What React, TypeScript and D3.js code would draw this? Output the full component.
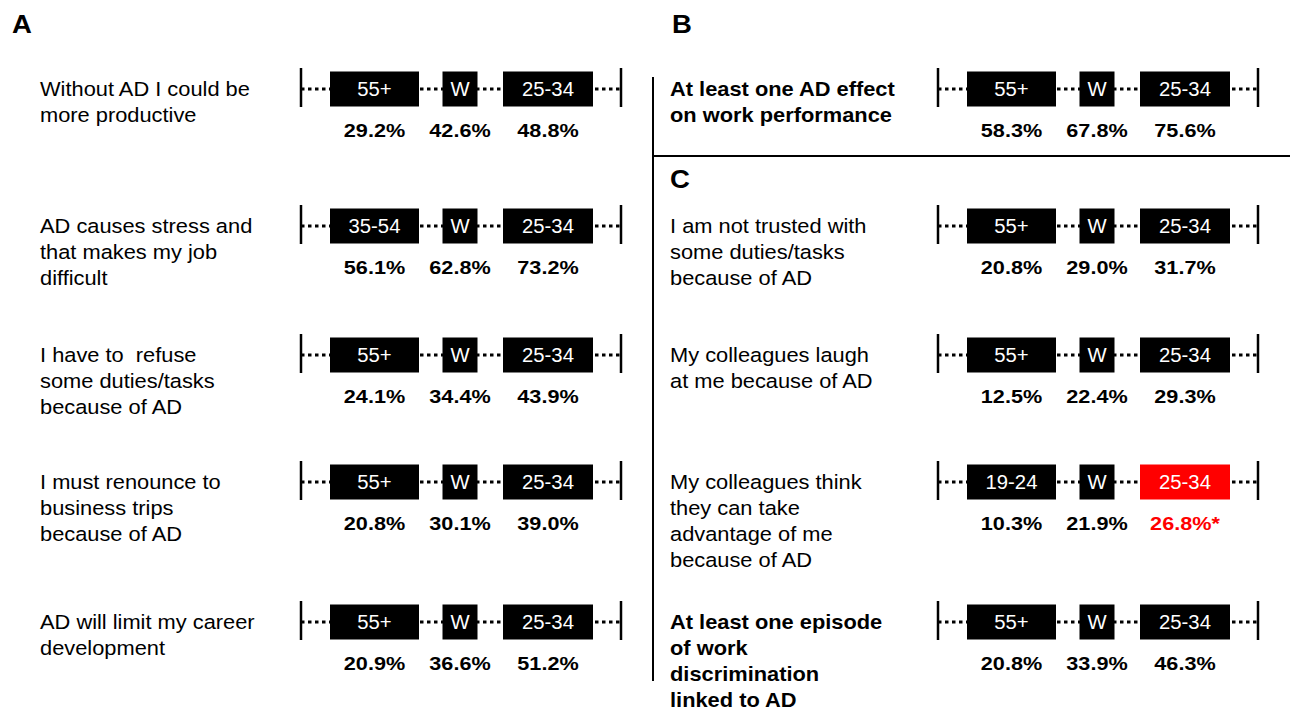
import React from "react";
import * as d3 from "d3";

// ---- Data ----
const leftLabels = [
  ["Without AD I could be", "more productive"],
  ["AD causes stress and", "that makes my job", "difficult"],
  ["I have to  refuse", "some duties/tasks", "because of AD"],
  ["I must renounce to", "business trips", "because of AD"],
  ["AD will limit my career", "development"],
];
const leftGroups = ["55+", "35-54", "55+", "55+", "55+"];
const leftGroupValues = [29.2, 56.1, 24.1, 20.8, 20.9];
const leftWholeValues = [42.6, 62.8, 34.4, 30.1, 36.6];
const leftRefValues = [48.8, 73.2, 43.9, 39.0, 51.2];

const rightLabels = [
  ["At least one AD effect", "on work performance"],
  ["I am not trusted with", "some duties/tasks", "because of AD"],
  ["My colleagues laugh", "at me because of AD"],
  ["My colleagues think", "they can take", "advantage of me", "because of AD"],
  ["At least one episode", "of work", "discrimination", "linked to AD"],
];
const rightBold = [true, false, false, false, true];
const rightGroups = ["55+", "55+", "55+", "19-24", "55+"];
const rightGroupValues = [58.3, 20.8, 12.5, 10.3, 20.8];
const rightWholeValues = [67.8, 29.0, 22.4, 21.9, 33.9];
const rightRefValues = [75.6, 31.7, 29.3, 26.8, 46.3];
const rightRefSignificant = [false, false, false, true, false];

const wholeLabel = "W";
const refLabel = "25-34";

const FONT = "'Liberation Sans', Arial, sans-serif";

type Row = {
  label: string[];
  bold: boolean;
  group: string;
  vals: number[];
  sig: boolean;
};

function Strip({ x0, y, row }: { x0: number; y: number; row: Row }) {
  const slots = ["group", "whole", "ref"];
  const center = d3.scaleOrdinal<string, number>().domain(slots).range([73.5, 159, 247]);
  const width = d3.scaleOrdinal<string, number>().domain(slots).range([89, 35, 90]);
  const len = 320;
  const texts = [row.group, wholeLabel, refLabel];
  const fmt = d3.format(".1f");
  return (
    <g transform={`translate(${x0},${y})`}>
      <line x1={0} x2={len} y1={0} y2={0} stroke="#000" strokeWidth={3} strokeDasharray="3.5 3.5" />
      <line x1={0} x2={0} y1={-21} y2={18} stroke="#000" strokeWidth={2.5} />
      <line x1={len} x2={len} y1={-21} y2={18} stroke="#000" strokeWidth={2.5} />
      {slots.map((s, i) => {
        const red = s === "ref" && row.sig;
        const cx = center(s);
        const w = width(s);
        return (
          <g key={s}>
            <rect x={cx - w / 2} y={-17.5} width={w} height={35} fill={red ? "#ff0000" : "#000"} />
            <text
              transform={`translate(${cx},7) scale(1.04,1)`}
              textAnchor="middle"
              fill="#fff"
              fontFamily={FONT}
              fontSize={19.5}
            >
              {texts[i]}
            </text>
            <text
              transform={`translate(${cx},48) scale(1.17,1)`}
              textAnchor="middle"
              fill={red ? "#ff0000" : "#000"}
              fontFamily={FONT}
              fontSize={18.5}
              fontWeight="bold"
            >
              {fmt(row.vals[i]) + "%" + (red ? "*" : "")}
            </text>
          </g>
        );
      })}
    </g>
  );
}

function Label({ x, y, lines, bold }: { x: number; y: number; lines: string[]; bold: boolean }) {
  return (
    <text
      transform={`translate(${x},${y}) scale(1.12,1)`}
      fontFamily={FONT}
      fontSize={19.5}
      fontWeight={bold ? "bold" : "normal"}
      fill="#000"
    >
      {lines.map((l, i) => (
        <tspan key={i} x={0} y={i * 26} style={{ whiteSpace: "pre" }}>
          {l}
        </tspan>
      ))}
    </text>
  );
}

export default function App() {
  const leftRows: Row[] = leftLabels.map((l, i) => ({
    label: l,
    bold: false,
    group: leftGroups[i],
    vals: [leftGroupValues[i], leftWholeValues[i], leftRefValues[i]],
    sig: false,
  }));
  const rightRows: Row[] = rightLabels.map((l, i) => ({
    label: l,
    bold: rightBold[i],
    group: rightGroups[i],
    vals: [rightGroupValues[i], rightWholeValues[i], rightRefValues[i]],
    sig: rightRefSignificant[i],
  }));
  const leftY = [89, 226, 355, 482, 622];
  const rightY = [89, 226, 355, 482, 622];

  const heading = (t: string, x: number, y: number) => (
    <text transform={`translate(${x},${y}) scale(1.1,1)`} fontFamily={FONT} fontSize={25} fontWeight="bold">
      {t}
    </text>
  );

  return (
    <svg
      width={1290}
      height={712}
      style={{ position: "absolute", left: 0, top: 0, background: "#fff" }}
    >
      <rect x={0} y={0} width={1290} height={712} fill="#fff" />
      {heading("A", 12, 33)}
      {heading("B", 672, 33)}
      {heading("C", 670, 188)}
      <line x1={653} x2={653} y1={77} y2={681} stroke="#000" strokeWidth={2} />
      <line x1={654} x2={1290} y1={156} y2={156} stroke="#000" strokeWidth={2} />
      {leftRows.map((r, i) => (
        <g key={"l" + i}>
          <Label x={40} y={leftY[i] + 7} lines={r.label} bold={r.bold} />
          <Strip x0={301} y={leftY[i]} row={r} />
        </g>
      ))}
      {rightRows.map((r, i) => (
        <g key={"r" + i}>
          <Label x={670} y={rightY[i] + 7} lines={r.label} bold={r.bold} />
          <Strip x0={938} y={rightY[i]} row={r} />
        </g>
      ))}
    </svg>
  );
}
